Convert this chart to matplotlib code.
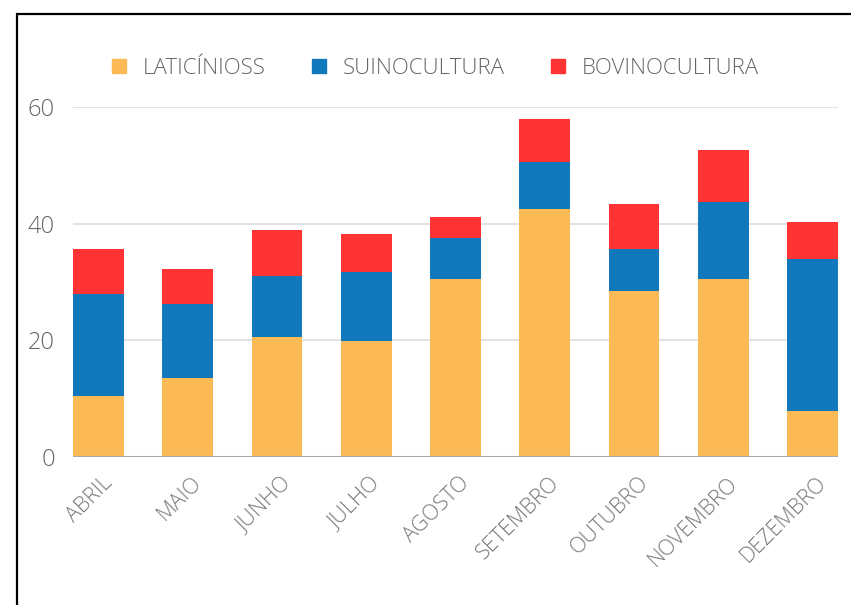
import matplotlib
matplotlib.use("Agg")
import matplotlib.pyplot as plt
from matplotlib.patches import Rectangle
from matplotlib.lines import Line2D
from matplotlib.transforms import ScaledTranslation
import numpy as np

months = ["ABRIL", "MAIO", "JUNHO", "JULHO", "AGOSTO", "SETEMBRO", "OUTUBRO", "NOVEMBRO", "DEZEMBRO"]
laticinios = [10.5, 13.5, 20.6, 19.9, 30.6, 42.5, 28.5, 30.6, 7.9]
suinocultura = [17.5, 12.7, 10.5, 11.8, 7.0, 8.0, 7.2, 13.2, 26.0]
bovinocultura = [7.6, 6.0, 7.9, 6.6, 3.5, 7.4, 7.7, 8.9, 6.4]
series_names = ["LATICÍNIOSS", "SUINOCULTURA", "BOVINOCULTURA"]
colors = ["#FCBA56", "#1078BB", "#FF3333"]
yticks = [0, 20, 40, 60]

plt.rcParams['font.family'] = ['Open Sans', 'DejaVu Sans']

W, H = 851, 605
fig = plt.figure(figsize=(W / 100, H / 100), dpi=100)
ax = fig.add_axes([73 / W, 1 - 457 / H, (838 - 73) / W, (457 - 107) / H])

x = np.arange(len(months))
bw = 0.57
bottom = np.zeros(len(months))
for vals, c in zip([laticinios, suinocultura, bovinocultura], colors):
    ax.bar(x, vals, bw, bottom=bottom, color=c, edgecolor='none', zorder=3)
    bottom = bottom + np.array(vals)

ax.set_xlim(-bw / 2, len(months) - 1 + bw / 2)
ax.set_ylim(0, 60)
ax.set_yticks(yticks)
ax.set_yticklabels([str(t) for t in yticks])
for t in yticks[1:]:
    ax.axhline(t, color='#dddddd', lw=1.2, zorder=1)
ax.axhline(0, color='#aaaaaa', lw=1.5, zorder=4)
for s in ax.spines.values():
    s.set_visible(False)
ax.tick_params(axis='y', length=0, pad=13, labelsize=17, labelcolor='#666666')
ax.tick_params(axis='x', length=0, pad=16.5)
ax.set_xticks(x)
ax.set_xticklabels(months, rotation=45, ha='right', va='center',
                   rotation_mode='anchor', fontsize=15.5, color='#777777')
offset = ScaledTranslation(11 / 100, 0, fig.dpi_scale_trans)
for lab in ax.get_xticklabels():
    lab.set_transform(lab.get_transform() + offset)
for lab in ax.get_yticklabels() + ax.get_xticklabels():
    lab.set_fontweight('light')

handles = [Line2D([], [], marker='s', linestyle='none', markersize=9.5,
                  markerfacecolor=c, markeredgecolor=c) for c in colors]
leg = fig.legend(handles, series_names, loc='center left', ncol=3,
                 bbox_to_anchor=(112 / W, 1 - 68 / H), frameon=False,
                 fontsize=16, handlelength=0.6, handletextpad=0.77,
                 columnspacing=2.1, borderpad=0, borderaxespad=0)
for t in leg.get_texts():
    t.set_color('#666666')
    t.set_fontweight('light')

fig.patches.append(Rectangle((17 / W, -0.1), 1.2, 1.1 - 14 / H,
                             transform=fig.transFigure, fill=False,
                             edgecolor='black', lw=1.6))

fig.savefig("out.png", dpi=100, facecolor='white')
